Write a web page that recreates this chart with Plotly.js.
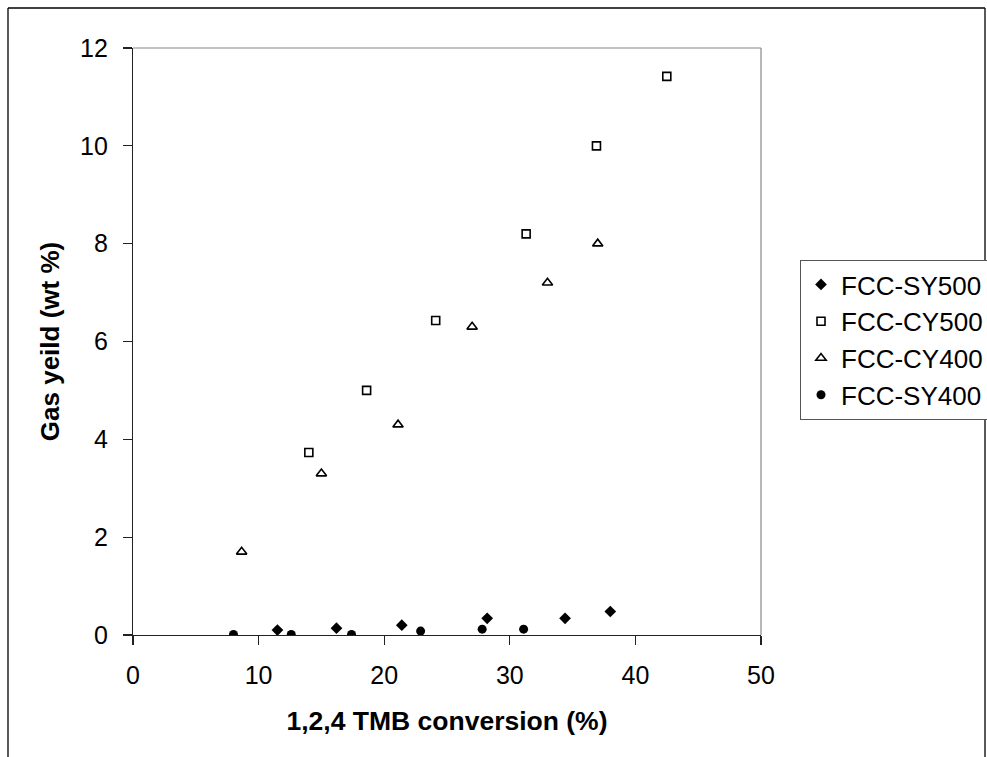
<!DOCTYPE html>
<html>
<head>
<meta charset="utf-8">
<script src="https://cdn.plot.ly/plotly-3.0.1.min.js"></script>
<style>html,body{margin:0;padding:0;background:#fff;}#chart{width:987px;height:757px;}</style>
</head>
<body>
<div id="chart"></div>
<script>
// Data
const sy500_x = [11.5, 16.2, 21.4, 28.2, 34.4, 38.0];
const sy500_y = [0.10, 0.14, 0.20, 0.34, 0.34, 0.48];

const cy500_x = [14.0, 18.6, 24.1, 31.3, 36.9, 42.5];
const cy500_y = [3.73, 5.0, 6.43, 8.2, 10.0, 11.42];

const cy400_x = [8.65, 15.0, 21.1, 27.0, 33.0, 37.0];
const cy400_y = [1.7, 3.3, 4.3, 6.3, 7.2, 8.0];

const sy400_x = [8.0, 12.6, 17.4, 22.9, 27.8, 31.1];
const sy400_y = [0.01, 0.01, 0.01, 0.08, 0.12, 0.12];

const seriesNames = ["FCC-SY500", "FCC-CY500", "FCC-CY400", "FCC-SY400"];
const xTicks = [0, 10, 20, 30, 40, 50];
const yTicks = [0, 2, 4, 6, 8, 10, 12];

const FONT = "Liberation Sans, Arial, sans-serif";

const traces = [
  {x: sy500_x, y: sy500_y, name: seriesNames[0], legendgroup: "a", type: "scatter", mode: "markers",
   marker: {symbol: "diamond", size: 9, color: "#000"}},
  {x: cy500_x, y: cy500_y, name: seriesNames[1], legendgroup: "b", type: "scatter", mode: "markers",
   marker: {symbol: "square-open", size: 8, color: "#000", line: {width: 1.6, color: "#000"}}},
  {x: cy400_x, y: cy400_y, name: seriesNames[2], legendgroup: "c", type: "scatter", mode: "markers",
   marker: {symbol: "triangle-up-open", size: 9, color: "#000", line: {width: 1.6, color: "#000"}}},
  {x: sy400_x, y: sy400_y, name: seriesNames[3], legendgroup: "d", type: "scatter", mode: "markers",
   marker: {symbol: "circle", size: 9, color: "#000"}}
];

const L = 133, R = 761, T = 48, B = 635, W = 987, H = 757;
const pw = R - L, ph = B - T;
const px = v => (v - L) / pw;
const py = v => (B - v) / ph;

const layout = {
  width: W, height: H,
  margin: {l: L, r: W - R, t: T, b: H - B, pad: 0, autoexpand: false},
  paper_bgcolor: "#fff", plot_bgcolor: "#fff",
  font: {family: FONT, color: "#000", size: 25},
  showlegend: true,
  legend: {
    xref: "container", yref: "container",
    x: 800 / W, y: 1 - 260 / H, xanchor: "left", yanchor: "top",
    bordercolor: "#555", borderwidth: 1, bgcolor: "#fff",
    font: {family: FONT, size: 26, color: "#000"},
    traceorder: "grouped", tracegroupgap: 0,
    itemsizing: "trace"
  },
  xaxis: {
    range: [0, 50], tickvals: xTicks, ticktext: xTicks.map(String),
    showgrid: false, zeroline: false,
    showline: true, linecolor: "#222", linewidth: 1.2,
    ticks: "outside", ticklen: 9, tickcolor: "#222", tickwidth: 1.2,
    ticklabelstandoff: 9,
    tickfont: {family: FONT, size: 25, color: "#000"},
    title: {text: "<b>1,2,4 TMB conversion (%)</b>", font: {family: FONT, size: 26.5, color: "#000"}, standoff: 23},
    automargin: false,
    fixedrange: true
  },
  yaxis: {
    range: [0, 12], tickvals: yTicks, ticktext: yTicks.map(String),
    showgrid: false, zeroline: false,
    showline: true, linecolor: "#222", linewidth: 1.2,
    ticks: "outside", ticklen: 9, tickcolor: "#222", tickwidth: 1.2,
    ticklabelstandoff: 10,
    tickfont: {family: FONT, size: 25, color: "#000"},
    title: {text: "<b>Gas yeild (wt %)</b>", font: {family: FONT, size: 26, color: "#000"}, standoff: 12},
    automargin: false,
    fixedrange: true
  },
  shapes: [
    // plot-area top and right border (grey)
    {type: "line", xref: "paper", yref: "paper", x0: 0, x1: 1, y0: 1, y1: 1, line: {color: "#888", width: 1.2}},
    {type: "line", xref: "paper", yref: "paper", x0: 1, x1: 1, y0: 0, y1: 1, line: {color: "#888", width: 1.2}},
    // outer chart border
    {type: "line", xref: "paper", yref: "paper", x0: px(8), x1: px(8), y0: py(8), y1: py(800), line: {color: "#000", width: 1.3}},
    {type: "line", xref: "paper", yref: "paper", x0: px(8), x1: px(985), y0: py(8), y1: py(8), line: {color: "#000", width: 1.3}},
    {type: "line", xref: "paper", yref: "paper", x0: px(985), x1: px(985), y0: py(8), y1: py(800), line: {color: "#000", width: 1.3}}
  ]
};

Plotly.newPlot("chart", traces, layout, {displayModeBar: false, staticPlot: true});
</script>
</body>
</html>
